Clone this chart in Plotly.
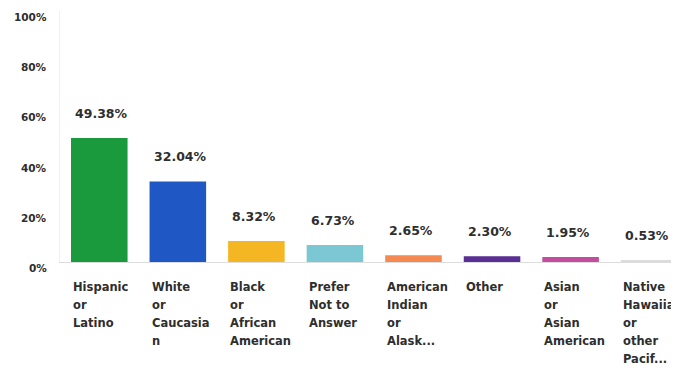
import plotly.graph_objects as go

categories = [
    ["Hispanic", "or", "Latino"],
    ["White", "or", "Caucasia", "n"],
    ["Black", "or", "African", "American"],
    ["Prefer", "Not to", "Answer"],
    ["American", "Indian", "or", "Alask..."],
    ["Other"],
    ["Asian", "or", "Asian", "American"],
    ["Native", "Hawaiian", "or", "other", "Pacif..."],
]
values = [49.38, 32.04, 8.32, 6.73, 2.65, 2.30, 1.95, 0.53]
colors = ["#1a9a3c", "#1f58c4", "#f5b624", "#7cc7d4",
          "#f48a52", "#5a2f93", "#c24c9d", "#dcdcdc"]
y_ticks = [0, 20, 40, 60, 80, 100]
y_labels = ["0%", "20%", "40%", "60%", "80%", "100%"]

idx = list(range(len(categories)))
half = 0.36
txt = "#2e2e2e"

fig = go.Figure(go.Bar(
    x=idx,
    y=values,
    marker=dict(color=colors, line=dict(width=0)),
    width=2 * half,
    hoverinfo="skip",
))

annotations = []
for i, (lines, v) in enumerate(zip(categories, values)):
    # value label above the bar
    annotations.append(dict(
        x=i - half, y=v, xref="x", yref="y",
        text=f"{v:.2f}%", showarrow=False,
        xanchor="left", yanchor="middle", xshift=2, yshift=25,
        font=dict(family="DejaVu Sans", size=12.5, color=txt, weight="bold"),
    ))
    # category label under the axis, one line at a time
    for k, ln in enumerate(lines):
        annotations.append(dict(
            x=i - half, y=0, xref="x", yref="paper",
            text=ln, showarrow=False,
            xanchor="left", yanchor="middle", xshift=0, yshift=-25 - 18 * k,
            font=dict(family="DejaVu Sans", size=11.5, color=txt, weight="bold"),
        ))

# y tick labels sit a few px below their gridline positions in the original
for t, lab in zip(y_ticks, y_labels):
    annotations.append(dict(
        x=0, y=t, xref="paper", yref="y",
        text=lab, showarrow=False,
        xanchor="right", yanchor="middle", xshift=-11, yshift=-6,
        font=dict(family="DejaVu Sans", size=10.5, color=txt, weight="bold"),
    ))

# page body adds an 8px margin, so the figure is a bit smaller than the window
fig.update_layout(
    width=671, height=360,
    margin=dict(l=52, r=0, t=3, b=106),
    paper_bgcolor="white", plot_bgcolor="white",
    showlegend=False,
    annotations=annotations,
    xaxis=dict(range=[-0.5, 7.38], showticklabels=False, ticks="",
               showgrid=False, zeroline=False, automargin=False,
               showline=True, linecolor="#dddddd", linewidth=1),
    yaxis=dict(range=[0, 100], tickvals=y_ticks, showticklabels=False,
               showgrid=False, zeroline=False, automargin=False,
               showline=True, linecolor="#f0f0f0", linewidth=1, ticks=""),
)

fig.write_html("out.html")
